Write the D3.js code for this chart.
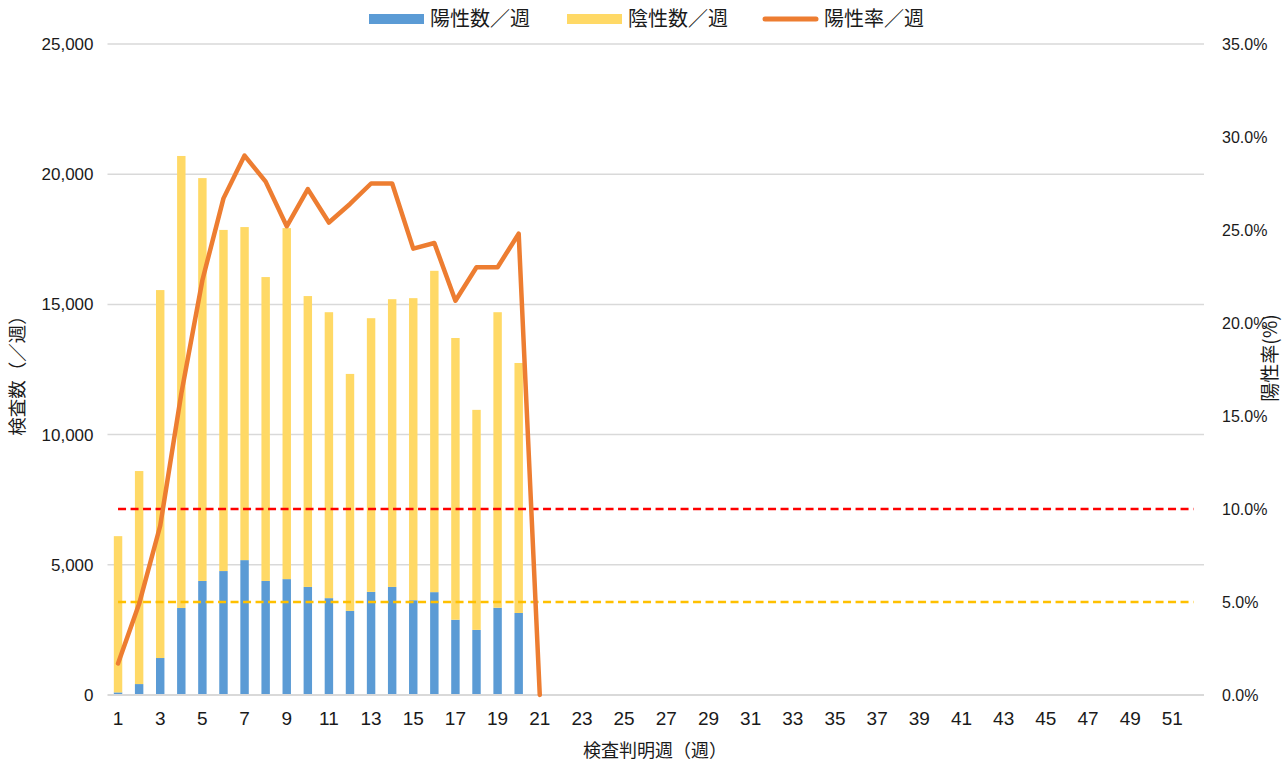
<!DOCTYPE html>
<html>
<head>
<meta charset="utf-8">
<script src="https://cdn.jsdelivr.net/npm/d3@7/dist/d3.min.js"></script>
<style>
  body { margin: 0; background: #fff; }
  svg { display: block; }
</style>
</head>
<body>
<div id="chart"></div>
<script>
// data
const weeks = [1, 2, 3, 4, 5, 6, 7, 8, 9, 10, 11, 12, 13, 14, 15, 16, 17, 18, 19, 20,
  21, 22, 23, 24, 25, 26, 27, 28, 29, 30, 31, 32, 33, 34, 35, 36, 37, 38, 39, 40,
  41, 42, 43, 44, 45, 46, 47, 48, 49, 50, 51, 52];
const positive = [100, 420, 1420, 3340, 4380, 4760, 5180, 4380, 4450, 4150, 3720, 3230,
  3960, 4150, 3640, 3950, 2890, 2500, 3350, 3150, 0];
const negative = [6000, 8180, 14130, 17360, 15470, 13100, 12790, 11670, 13480, 11170, 10980, 9100,
  10510, 11050, 11600, 12340, 10820, 8450, 11350, 9600, 0];
const positiveRate = [1.7, 4.9, 9.1, 16.2, 22.3, 26.7, 29.0, 27.6, 25.2, 27.2, 25.4, 26.4,
  27.5, 27.5, 24.0, 24.3, 21.2, 23.0, 23.0, 24.8, 0.0];
const refLines = [{ value: 10, color: "#FF0000" }, { value: 5, color: "#FFC000" }];
const leftTicks = [0, 5000, 10000, 15000, 20000, 25000];
const rightTicks = [0, 5, 10, 15, 20, 25, 30, 35];

const width = 1288, height = 767;
const plotL = 107.5, plotR = 1204, plotT = 44, plotB = 695;

const svg = d3.select("#chart")
   .append("svg")
   .attr("width", width)
   .attr("height", height);

const x = d3.scaleBand()
   .domain(weeks)
   .range([plotL, plotR])
   .paddingInner(0.6)
   .paddingOuter(0.3);

const yCount = d3.scaleLinear()
   .domain([0, 25000])
   .range([plotB, plotT]);

const yRate = d3.scaleLinear()
   .domain([0, 35])
   .range([plotB, plotT]);

const cx = w => x(w) + x.bandwidth() / 2;

// grid
svg.append("g")
   .selectAll("line")
   .data(leftTicks.slice(1))
   .enter()
   .append("line")
   .attr("x1", plotL)
   .attr("x2", plotR)
   .attr("y1", d => yCount(d))
   .attr("y2", d => yCount(d))
   .attr("stroke", "#D9D9D9")
   .attr("stroke-width", 1.5);

// left axis
const axL = svg.append("g")
   .attr("transform", `translate(${plotL - 14},0)`)
   .call(d3.axisLeft(yCount).tickValues(leftTicks).tickSize(0).tickFormat(d3.format(",")));
axL.select(".domain").remove();
axL.selectAll("text")
   .attr("x", 0)
   .attr("font-family", "'Liberation Sans', Arial, sans-serif")
   .attr("font-size", 17)
   .attr("fill", "#1a1a1a");

// right axis
const axR = svg.append("g")
   .attr("transform", `translate(${plotR + 18},0)`)
   .call(d3.axisRight(yRate).tickValues(rightTicks).tickSize(0).tickFormat(d => d3.format(".1f")(d) + "%"));
axR.select(".domain").remove();
axR.selectAll("text")
   .attr("x", 0)
   .attr("font-family", "'Liberation Sans', Arial, sans-serif")
   .attr("font-size", 16)
   .attr("fill", "#1a1a1a");

// bars
const stackData = positive.map((p, i) => ({ week: weeks[i], pos: p, neg: negative[i] }));

svg.append("g")
   .selectAll("rect")
   .data(stackData)
   .enter()
   .append("rect")
   .attr("x", d => x(d.week))
   .attr("width", x.bandwidth())
   .attr("y", d => yCount(d.pos))
   .attr("height", d => plotB - yCount(d.pos))
   .attr("fill", "#5B9BD5");

svg.append("g")
   .selectAll("rect")
   .data(stackData)
   .enter()
   .append("rect")
   .attr("x", d => x(d.week))
   .attr("width", x.bandwidth())
   .attr("y", d => yCount(d.pos + d.neg))
   .attr("height", d => yCount(d.pos) - yCount(d.pos + d.neg))
   .attr("fill", "#FFD966");

// x axis
svg.append("line")
   .attr("x1", plotL)
   .attr("x2", plotR)
   .attr("y1", plotB)
   .attr("y2", plotB)
   .attr("stroke", "#D9D9D9")
   .attr("stroke-width", 2);

const axB = svg.append("g")
   .attr("transform", `translate(0,${plotB + 13})`)
   .call(d3.axisBottom(x).tickValues(weeks.filter(w => w % 2 === 1)).tickSize(0));
axB.select(".domain").remove();
axB.selectAll("text")
   .attr("font-family", "'Liberation Sans Narrow', 'Liberation Sans', sans-serif")
   .attr("font-size", 19)
   .attr("fill", "#1a1a1a");

// reference lines
refLines.forEach(r => {
  svg.append("line")
     .attr("x1", cx(weeks[0]))
     .attr("x2", cx(weeks[weeks.length - 1]))
     .attr("y1", yRate(r.value))
     .attr("y2", yRate(r.value))
     .attr("stroke", r.color)
     .attr("stroke-width", 2.5)
     .attr("stroke-dasharray", "8,4.5");
});

// rate line
const rateLine = d3.line()
   .x((d, i) => cx(weeks[i]))
   .y(d => yRate(d));

svg.append("path")
   .datum(positiveRate)
   .attr("fill", "none")
   .attr("stroke", "#ED7D31")
   .attr("stroke-width", 4.5)
   .attr("stroke-linejoin", "round")
   .attr("stroke-linecap", "round")
   .attr("d", rateLine);

// axis titles
const jp = "'Noto Sans CJK JP', sans-serif";

svg.append("text")
   .attr("transform", "translate(24,371) rotate(-90)")
   .attr("text-anchor", "middle")
   .attr("font-family", jp)
   .attr("font-size", 18.5)
   .attr("fill", "#1a1a1a")
   .text("検査数（／週）");

svg.append("text")
   .attr("transform", "translate(1277,358) rotate(-90)")
   .attr("text-anchor", "middle")
   .attr("font-family", jp)
   .attr("font-size", 19)
   .attr("fill", "#1a1a1a")
   .text("陽性率(%)");

svg.append("text")
   .attr("x", 655)
   .attr("y", 757)
   .attr("text-anchor", "middle")
   .attr("font-family", jp)
   .attr("font-size", 18)
   .attr("fill", "#1a1a1a")
   .text("検査判明週（週）");

// legend
const legend = [
  { label: "陽性数／週", color: "#5B9BD5", type: "rect", x: 369 },
  { label: "陰性数／週", color: "#FFD966", type: "rect", x: 567 },
  { label: "陽性率／週", color: "#ED7D31", type: "line", x: 763 }
];

const lg = svg.append("g");
legend.forEach(l => {
  if (l.type === "rect") {
    lg.append("rect")
       .attr("x", l.x).attr("y", 14)
       .attr("width", 55).attr("height", 10)
       .attr("fill", l.color);
  } else {
    lg.append("line")
       .attr("x1", l.x + 2).attr("x2", l.x + 53)
       .attr("y1", 19).attr("y2", 19)
       .attr("stroke", l.color)
       .attr("stroke-width", 5)
       .attr("stroke-linecap", "round");
  }
  lg.append("text")
     .attr("x", l.x + 61)
     .attr("y", 26)
     .attr("font-family", jp)
     .attr("font-size", 20)
     .attr("fill", "#1a1a1a")
     .text(l.label);
});
</script>
</body>
</html>
